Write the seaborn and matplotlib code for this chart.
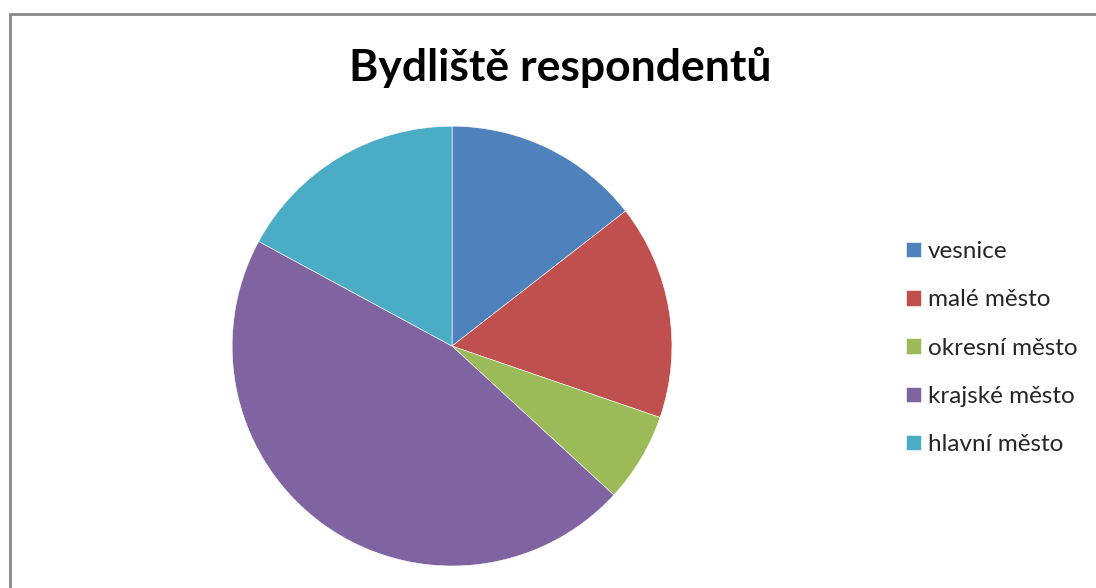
import matplotlib.pyplot as plt
import seaborn as sns
from matplotlib.patches import Rectangle

# pocty respondentu podle bydliste
categories = ["vesnice", "malé město", "okresní město", "krajské město", "hlavní město"]
counts = [11, 12, 5, 35, 13]
colors = ["#4F81BD", "#C0504D", "#9BBB59", "#8064A2", "#4BACC6"]
title = "Bydliště respondentů"

sns.set_theme(style="white")
plt.rcParams["font.family"] = ["Lato", "DejaVu Sans"]

fig = plt.figure(figsize=(10.96, 5.88), dpi=100)
fig.patch.set_facecolor("white")

# chart border (Excel style frame)
fig.patches.append(Rectangle((10/1096, -0.05), 1.2, 1 - 14/588 + 0.05,
                             transform=fig.transFigure, fill=False,
                             edgecolor="#888888", linewidth=2))

ax = fig.add_axes([0.2117, 0.0374, 0.4015, 0.748])
wedges, _ = ax.pie(counts, colors=colors, startangle=90, counterclock=False,
                   wedgeprops=dict(edgecolor="white", linewidth=0.4))
ax.set_xlim(-1, 1)
ax.set_ylim(-1, 1)
ax.set_aspect("equal")

fig.text(0.511, 1 - 67/588, title, ha="center", va="center",
         fontsize=32, fontweight="bold", color="black")

fig.legend(wedges, categories, loc="upper left",
           bbox_to_anchor=(894/1096, 1 - 229/588), frameon=False,
           fontsize=17.5, handlelength=0.6, handleheight=0.6,
           handletextpad=0.3, labelspacing=1.12, borderpad=0)

fig.savefig("out.png", dpi=100)
